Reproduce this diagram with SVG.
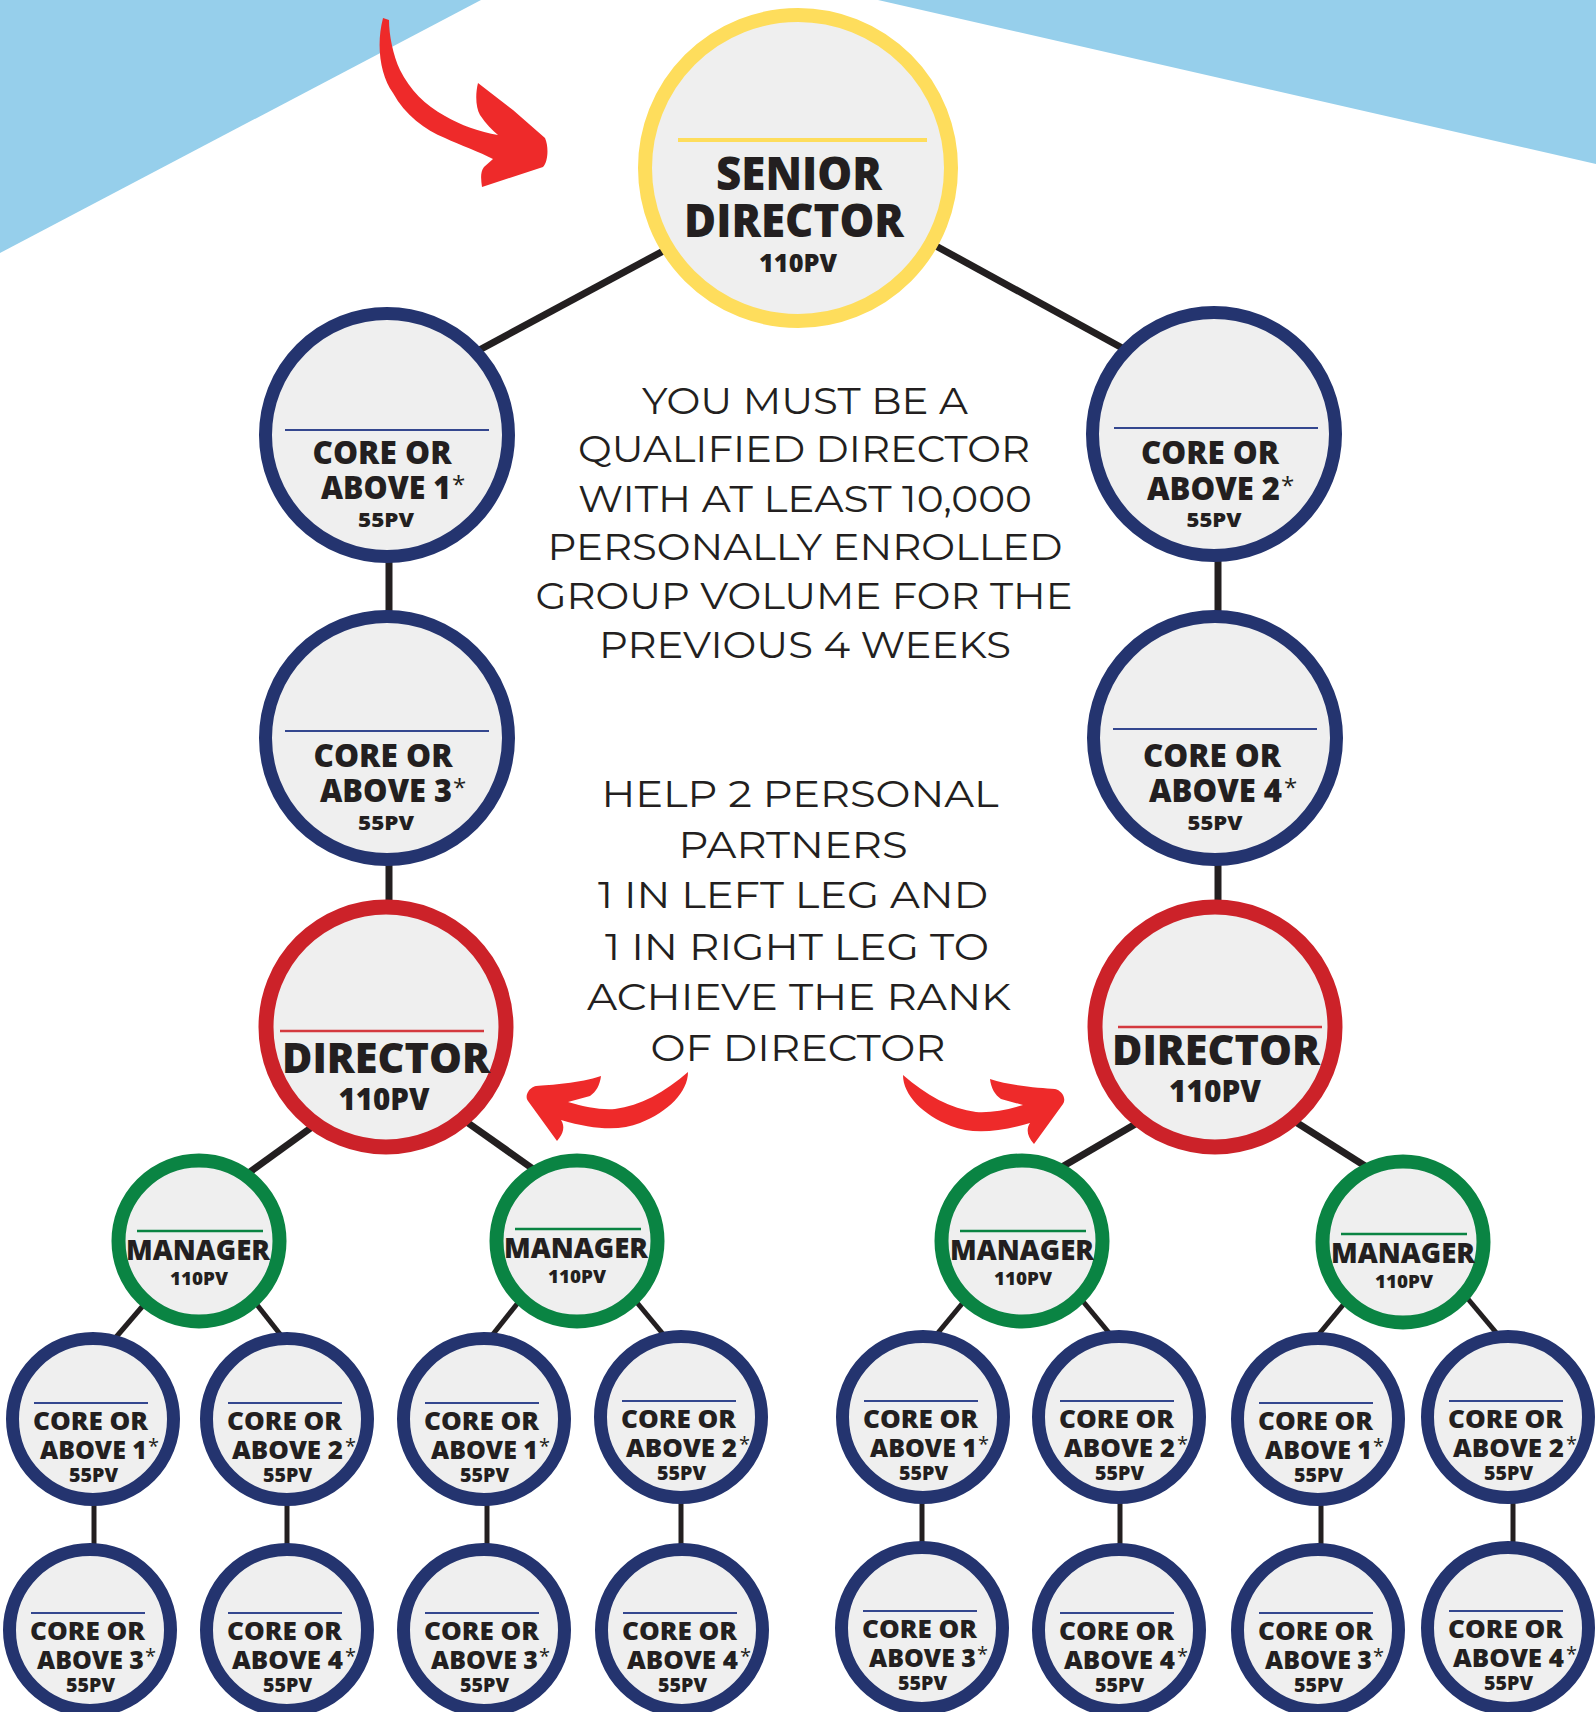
<svg xmlns="http://www.w3.org/2000/svg" width="1596" height="1712" viewBox="0 0 1596 1712">
<style>
.bg{fill:#96CFEB}
.arrow{fill:#EE2A2A}
.conn line{stroke:#231F20;stroke-width:7}
.conn line.thin{stroke-width:5}
.node circle{fill:#EFEFEF}
.core circle{stroke:#24346F}
.core line{stroke:#34478F;stroke-width:2}
.dir circle{stroke:#CC2229;stroke-width:15}
.dir line{stroke:#D4393F;stroke-width:2.5}
.mgr circle{stroke:#0A8443;stroke-width:14}
.mgr line{stroke:#0A8443;stroke-width:2.5}
.t{font-family:"Open Sans","Liberation Sans",sans-serif;font-weight:800;fill:#231F20;text-anchor:middle}
.s{text-anchor:start}
.ast{font-weight:400}
.big .l1,.big .l2{font-size:31px}
.big .l3{font-size:20px}
.big .ast{font-size:24px}
.sm .l1,.sm .l2{font-size:25px}
.sm .l3{font-size:19px}
.sm .ast{font-size:20px}
.body{font-family:"Montserrat","Lato","Open Sans",sans-serif;font-weight:400;fill:#231F20;text-anchor:middle;font-size:38px}
</style>

<!-- background -->
<polygon class="bg" points="0,0 481,0 0,253"/>
<polygon class="bg" points="878,0 1596,0 1596,164"/>

<!-- red arrows -->
<path class="arrow" d="M383,18 C376,45 380,75 393,93 C405,115 425,130 445,138 C460,145 480,152 493,159 L484,167 C480,172 481,180 482,187 L543,167 C548,162 549,147 545,138 L513,110 L478,83 C475,95 476,108 480,115 C486,124 492,130 498,135 C480,132 460,125 445,116 C425,105 410,90 400,70 C393,55 389,35 389,20 Z"/>
<path class="arrow" d="M688,1072 C688,1092 668,1112 640,1123 C620,1131 595,1130 561,1120 C565,1126 564,1133 557,1141 L528,1101 C524,1095 530,1087 536,1086 C550,1085 580,1083 601,1076 C600,1085 596,1092 590,1096 L568,1102 C585,1107 600,1110 615,1109 C640,1106 665,1092 688,1072 Z"/>
<path class="arrow" transform="translate(1591,3) scale(-1,1)" d="M688,1072 C688,1092 668,1112 640,1123 C620,1131 595,1130 561,1120 C565,1126 564,1133 557,1141 L528,1101 C524,1095 530,1087 536,1086 C550,1085 580,1083 601,1076 C600,1085 596,1092 590,1096 L568,1102 C585,1107 600,1110 615,1109 C640,1106 665,1092 688,1072 Z"/>

<!-- connectors -->
<g id="connectors" class="conn">
<line x1="680" y1="242" x2="470" y2="355"/>
<line x1="925" y1="240" x2="1135" y2="355"/>
<line x1="389" y1="550" x2="389" y2="625"/>
<line x1="389" y1="855" x2="389" y2="915"/>
<line x1="1218" y1="550" x2="1218" y2="625"/>
<line x1="1218" y1="855" x2="1218" y2="915"/>
<line x1="319" y1="1122" x2="243" y2="1177"/>
<line x1="461" y1="1118" x2="543" y2="1176"/>
<line x1="1144" y1="1119" x2="1055" y2="1171"/>
<line x1="1291" y1="1119" x2="1373" y2="1171"/>
<line class="thin" x1="147" y1="1301" x2="111" y2="1343"/>
<line class="thin" x1="254" y1="1301" x2="287" y2="1343"/>
<line class="thin" x1="521" y1="1299" x2="486" y2="1343"/>
<line class="thin" x1="634" y1="1299" x2="668" y2="1340"/>
<line class="thin" x1="966" y1="1299" x2="932" y2="1340"/>
<line class="thin" x1="1081" y1="1299" x2="1115" y2="1340"/>
<line class="thin" x1="1348" y1="1299" x2="1314" y2="1340"/>
<line class="thin" x1="1463" y1="1293" x2="1499" y2="1336"/>
<line class="thin" x1="94" y1="1495" x2="94" y2="1555"/>
<line class="thin" x1="287" y1="1495" x2="287" y2="1555"/>
<line class="thin" x1="487" y1="1495" x2="487" y2="1555"/>
<line class="thin" x1="681" y1="1495" x2="681" y2="1555"/>
<line class="thin" x1="922" y1="1495" x2="922" y2="1555"/>
<line class="thin" x1="1120" y1="1495" x2="1120" y2="1555"/>
<line class="thin" x1="1321" y1="1495" x2="1321" y2="1555"/>
<line class="thin" x1="1513" y1="1495" x2="1513" y2="1555"/>
</g>

<!-- senior director -->
<g id="senior-director" class="node" transform="translate(798,168)">
<circle r="153" stroke="#FEDD5C" stroke-width="14"/>
<line x1="-120" y1="-28" x2="129" y2="-28" stroke="#FEDD5C" stroke-width="4"/>
<text class="t"><tspan x="1" y="22" font-size="46" textLength="166" lengthAdjust="spacingAndGlyphs">SENIOR</tspan><tspan x="-4" y="69" font-size="46" textLength="220" lengthAdjust="spacingAndGlyphs">DIRECTOR</tspan><tspan x="0" y="104" font-size="24" textLength="78" lengthAdjust="spacingAndGlyphs">110PV</tspan></text>
</g>

<!-- large core nodes -->
<g id="core-l1" class="node core big" transform="translate(387,435)">
<circle r="121.5" stroke-width="13"/>
<line x1="-102" y1="-5" x2="102" y2="-5"/>
<text class="t"><tspan class="l1" x="-5" y="29" textLength="139" lengthAdjust="spacingAndGlyphs">CORE OR</tspan><tspan class="l2 s" x="-66" y="64" textLength="130" lengthAdjust="spacingAndGlyphs">ABOVE 1</tspan><tspan class="ast" dx="1" dy="-6">*</tspan><tspan class="l3" x="-1" y="92" textLength="56" lengthAdjust="spacingAndGlyphs">55PV</tspan></text>
</g>
<g id="core-r2" class="node core big" transform="translate(1214,434)">
<circle r="121.5" stroke-width="13"/>
<line x1="-100" y1="-6" x2="104" y2="-6"/>
<text class="t"><tspan class="l1" x="-4" y="30" textLength="138" lengthAdjust="spacingAndGlyphs">CORE OR</tspan><tspan class="l2 s" x="-67" y="66" textLength="133" lengthAdjust="spacingAndGlyphs">ABOVE 2</tspan><tspan class="ast" dx="1" dy="-6">*</tspan><tspan class="l3" x="0" y="93" textLength="55" lengthAdjust="spacingAndGlyphs">55PV</tspan></text>
</g>
<g id="core-l3" class="node core big" transform="translate(387,738)">
<circle r="121.5" stroke-width="13"/>
<line x1="-102" y1="-7" x2="102" y2="-7"/>
<text class="t"><tspan class="l1" x="-4" y="29" textLength="139" lengthAdjust="spacingAndGlyphs">CORE OR</tspan><tspan class="l2 s" x="-67" y="64" textLength="132" lengthAdjust="spacingAndGlyphs">ABOVE 3</tspan><tspan class="ast" dx="1" dy="-6">*</tspan><tspan class="l3" x="-1" y="92" textLength="56" lengthAdjust="spacingAndGlyphs">55PV</tspan></text>
</g>
<g id="core-r4" class="node core big" transform="translate(1215,738)">
<circle r="121.5" stroke-width="13"/>
<line x1="-102" y1="-9" x2="102" y2="-9"/>
<text class="t"><tspan class="l1" x="-3" y="29" textLength="138" lengthAdjust="spacingAndGlyphs">CORE OR</tspan><tspan class="l2 s" x="-66" y="64" textLength="133" lengthAdjust="spacingAndGlyphs">ABOVE 4</tspan><tspan class="ast" dx="2" dy="-6">*</tspan><tspan class="l3" x="0" y="92" textLength="55" lengthAdjust="spacingAndGlyphs">55PV</tspan></text>
</g>

<!-- directors -->
<g id="director-left" class="node dir" transform="translate(386,1027)">
<circle r="120"/>
<line x1="-106" y1="4" x2="98" y2="4"/>
<text class="t"><tspan x="0" y="46" font-size="42" textLength="208" lengthAdjust="spacingAndGlyphs">DIRECTOR</tspan><tspan x="-2" y="83" font-size="30" textLength="91" lengthAdjust="spacingAndGlyphs">110PV</tspan></text>
</g>
<g id="director-right" class="node dir" transform="translate(1215,1027)">
<circle r="120"/>
<line x1="-97" y1="0" x2="107" y2="0"/>
<text class="t"><tspan x="1" y="38" font-size="42" textLength="208" lengthAdjust="spacingAndGlyphs">DIRECTOR</tspan><tspan x="0" y="75" font-size="30" textLength="92" lengthAdjust="spacingAndGlyphs">110PV</tspan></text>
</g>

<!-- managers -->
<g id="manager-1" class="node mgr" transform="translate(199,1241)">
<circle r="80.5"/>
<line x1="-62" y1="-10" x2="64" y2="-10"/>
<text class="t"><tspan x="-1" y="19" font-size="28" textLength="144" lengthAdjust="spacingAndGlyphs">MANAGER</tspan><tspan x="0" y="44" font-size="18" textLength="58" lengthAdjust="spacingAndGlyphs">110PV</tspan></text>
</g>
<g id="manager-2" class="node mgr" transform="translate(577,1241)">
<circle r="80.5"/>
<line x1="-62" y1="-12" x2="64" y2="-12"/>
<text class="t"><tspan x="-1" y="17" font-size="28" textLength="144" lengthAdjust="spacingAndGlyphs">MANAGER</tspan><tspan x="0" y="42" font-size="18" textLength="58" lengthAdjust="spacingAndGlyphs">110PV</tspan></text>
</g>
<g id="manager-3" class="node mgr" transform="translate(1022,1241)">
<circle r="80.5"/>
<line x1="-62" y1="-10" x2="64" y2="-10"/>
<text class="t"><tspan x="0" y="19" font-size="28" textLength="144" lengthAdjust="spacingAndGlyphs">MANAGER</tspan><tspan x="1" y="44" font-size="18" textLength="58" lengthAdjust="spacingAndGlyphs">110PV</tspan></text>
</g>
<g id="manager-4" class="node mgr" transform="translate(1403,1242)">
<circle r="80.5"/>
<line x1="-62" y1="-8" x2="64" y2="-8"/>
<text class="t"><tspan x="0" y="21" font-size="28" textLength="144" lengthAdjust="spacingAndGlyphs">MANAGER</tspan><tspan x="1" y="46" font-size="18" textLength="58" lengthAdjust="spacingAndGlyphs">110PV</tspan></text>
</g>

<!-- small core nodes, row A -->
<g id="core-a1" class="node core sm" transform="translate(93,1419)">
<circle r="80.5" stroke-width="13"/><line x1="-59" y1="-16" x2="55" y2="-16"/>
<text class="t"><tspan class="l1" x="-2.5" y="11" textLength="115" lengthAdjust="spacingAndGlyphs">CORE OR</tspan><tspan class="l2 s" x="-53" y="40" textLength="107" lengthAdjust="spacingAndGlyphs">ABOVE 1</tspan><tspan class="ast" dx="1" dy="-6">*</tspan><tspan class="l3" x="0.5" y="63" textLength="49" lengthAdjust="spacingAndGlyphs">55PV</tspan></text>
</g>
<g id="core-a2" class="node core sm" transform="translate(287,1419)">
<circle r="80.5" stroke-width="13"/><line x1="-59" y1="-16" x2="55" y2="-16"/>
<text class="t"><tspan class="l1" x="-2.5" y="11" textLength="115" lengthAdjust="spacingAndGlyphs">CORE OR</tspan><tspan class="l2 s" x="-55" y="40" textLength="111" lengthAdjust="spacingAndGlyphs">ABOVE 2</tspan><tspan class="ast" dx="2" dy="-6">*</tspan><tspan class="l3" x="0.5" y="63" textLength="49" lengthAdjust="spacingAndGlyphs">55PV</tspan></text>
</g>
<g id="core-a3" class="node core sm" transform="translate(484,1419)">
<circle r="80.5" stroke-width="13"/><line x1="-59" y1="-16" x2="55" y2="-16"/>
<text class="t"><tspan class="l1" x="-2.5" y="11" textLength="115" lengthAdjust="spacingAndGlyphs">CORE OR</tspan><tspan class="l2 s" x="-53" y="40" textLength="107" lengthAdjust="spacingAndGlyphs">ABOVE 1</tspan><tspan class="ast" dx="1" dy="-6">*</tspan><tspan class="l3" x="0.5" y="63" textLength="49" lengthAdjust="spacingAndGlyphs">55PV</tspan></text>
</g>
<g id="core-a4" class="node core sm" transform="translate(681,1417)">
<circle r="80.5" stroke-width="13"/><line x1="-59" y1="-16" x2="55" y2="-16"/>
<text class="t"><tspan class="l1" x="-2.5" y="11" textLength="115" lengthAdjust="spacingAndGlyphs">CORE OR</tspan><tspan class="l2 s" x="-55" y="40" textLength="111" lengthAdjust="spacingAndGlyphs">ABOVE 2</tspan><tspan class="ast" dx="2" dy="-6">*</tspan><tspan class="l3" x="0.5" y="63" textLength="49" lengthAdjust="spacingAndGlyphs">55PV</tspan></text>
</g>
<g id="core-a5" class="node core sm" transform="translate(923,1417)">
<circle r="80.5" stroke-width="13"/><line x1="-59" y1="-16" x2="55" y2="-16"/>
<text class="t"><tspan class="l1" x="-2.5" y="11" textLength="115" lengthAdjust="spacingAndGlyphs">CORE OR</tspan><tspan class="l2 s" x="-53" y="40" textLength="107" lengthAdjust="spacingAndGlyphs">ABOVE 1</tspan><tspan class="ast" dx="1" dy="-6">*</tspan><tspan class="l3" x="0.5" y="63" textLength="49" lengthAdjust="spacingAndGlyphs">55PV</tspan></text>
</g>
<g id="core-a6" class="node core sm" transform="translate(1119,1417)">
<circle r="80.5" stroke-width="13"/><line x1="-59" y1="-16" x2="55" y2="-16"/>
<text class="t"><tspan class="l1" x="-2.5" y="11" textLength="115" lengthAdjust="spacingAndGlyphs">CORE OR</tspan><tspan class="l2 s" x="-55" y="40" textLength="111" lengthAdjust="spacingAndGlyphs">ABOVE 2</tspan><tspan class="ast" dx="2" dy="-6">*</tspan><tspan class="l3" x="0.5" y="63" textLength="49" lengthAdjust="spacingAndGlyphs">55PV</tspan></text>
</g>
<g id="core-a7" class="node core sm" transform="translate(1318,1419)">
<circle r="80.5" stroke-width="13"/><line x1="-59" y1="-16" x2="55" y2="-16"/>
<text class="t"><tspan class="l1" x="-2.5" y="11" textLength="115" lengthAdjust="spacingAndGlyphs">CORE OR</tspan><tspan class="l2 s" x="-53" y="40" textLength="107" lengthAdjust="spacingAndGlyphs">ABOVE 1</tspan><tspan class="ast" dx="1" dy="-6">*</tspan><tspan class="l3" x="0.5" y="63" textLength="49" lengthAdjust="spacingAndGlyphs">55PV</tspan></text>
</g>
<g id="core-a8" class="node core sm" transform="translate(1508,1417)">
<circle r="80.5" stroke-width="13"/><line x1="-59" y1="-16" x2="55" y2="-16"/>
<text class="t"><tspan class="l1" x="-2.5" y="11" textLength="115" lengthAdjust="spacingAndGlyphs">CORE OR</tspan><tspan class="l2 s" x="-55" y="40" textLength="111" lengthAdjust="spacingAndGlyphs">ABOVE 2</tspan><tspan class="ast" dx="2" dy="-6">*</tspan><tspan class="l3" x="0.5" y="63" textLength="49" lengthAdjust="spacingAndGlyphs">55PV</tspan></text>
</g>

<!-- small core nodes, row B -->
<g id="core-b1" class="node core sm" transform="translate(90,1630)">
<circle r="80.5" stroke-width="13"/><line x1="-59" y1="-17" x2="55" y2="-17"/>
<text class="t"><tspan class="l1" x="-2.5" y="10" textLength="115" lengthAdjust="spacingAndGlyphs">CORE OR</tspan><tspan class="l2 s" x="-53" y="39" textLength="107" lengthAdjust="spacingAndGlyphs">ABOVE 3</tspan><tspan class="ast" dx="1" dy="-6">*</tspan><tspan class="l3" x="0.5" y="62" textLength="49" lengthAdjust="spacingAndGlyphs">55PV</tspan></text>
</g>
<g id="core-b2" class="node core sm" transform="translate(287,1630)">
<circle r="80.5" stroke-width="13"/><line x1="-59" y1="-17" x2="55" y2="-17"/>
<text class="t"><tspan class="l1" x="-2.5" y="10" textLength="115" lengthAdjust="spacingAndGlyphs">CORE OR</tspan><tspan class="l2 s" x="-55" y="39" textLength="111" lengthAdjust="spacingAndGlyphs">ABOVE 4</tspan><tspan class="ast" dx="2" dy="-6">*</tspan><tspan class="l3" x="0.5" y="62" textLength="49" lengthAdjust="spacingAndGlyphs">55PV</tspan></text>
</g>
<g id="core-b3" class="node core sm" transform="translate(484,1630)">
<circle r="80.5" stroke-width="13"/><line x1="-59" y1="-17" x2="55" y2="-17"/>
<text class="t"><tspan class="l1" x="-2.5" y="10" textLength="115" lengthAdjust="spacingAndGlyphs">CORE OR</tspan><tspan class="l2 s" x="-53" y="39" textLength="107" lengthAdjust="spacingAndGlyphs">ABOVE 3</tspan><tspan class="ast" dx="1" dy="-6">*</tspan><tspan class="l3" x="0.5" y="62" textLength="49" lengthAdjust="spacingAndGlyphs">55PV</tspan></text>
</g>
<g id="core-b4" class="node core sm" transform="translate(682,1630)">
<circle r="80.5" stroke-width="13"/><line x1="-59" y1="-17" x2="55" y2="-17"/>
<text class="t"><tspan class="l1" x="-2.5" y="10" textLength="115" lengthAdjust="spacingAndGlyphs">CORE OR</tspan><tspan class="l2 s" x="-55" y="39" textLength="111" lengthAdjust="spacingAndGlyphs">ABOVE 4</tspan><tspan class="ast" dx="2" dy="-6">*</tspan><tspan class="l3" x="0.5" y="62" textLength="49" lengthAdjust="spacingAndGlyphs">55PV</tspan></text>
</g>
<g id="core-b5" class="node core sm" transform="translate(922,1628)">
<circle r="80.5" stroke-width="13"/><line x1="-59" y1="-17" x2="55" y2="-17"/>
<text class="t"><tspan class="l1" x="-2.5" y="10" textLength="115" lengthAdjust="spacingAndGlyphs">CORE OR</tspan><tspan class="l2 s" x="-53" y="39" textLength="107" lengthAdjust="spacingAndGlyphs">ABOVE 3</tspan><tspan class="ast" dx="1" dy="-6">*</tspan><tspan class="l3" x="0.5" y="62" textLength="49" lengthAdjust="spacingAndGlyphs">55PV</tspan></text>
</g>
<g id="core-b6" class="node core sm" transform="translate(1119,1630)">
<circle r="80.5" stroke-width="13"/><line x1="-59" y1="-17" x2="55" y2="-17"/>
<text class="t"><tspan class="l1" x="-2.5" y="10" textLength="115" lengthAdjust="spacingAndGlyphs">CORE OR</tspan><tspan class="l2 s" x="-55" y="39" textLength="111" lengthAdjust="spacingAndGlyphs">ABOVE 4</tspan><tspan class="ast" dx="2" dy="-6">*</tspan><tspan class="l3" x="0.5" y="62" textLength="49" lengthAdjust="spacingAndGlyphs">55PV</tspan></text>
</g>
<g id="core-b7" class="node core sm" transform="translate(1318,1630)">
<circle r="80.5" stroke-width="13"/><line x1="-59" y1="-17" x2="55" y2="-17"/>
<text class="t"><tspan class="l1" x="-2.5" y="10" textLength="115" lengthAdjust="spacingAndGlyphs">CORE OR</tspan><tspan class="l2 s" x="-53" y="39" textLength="107" lengthAdjust="spacingAndGlyphs">ABOVE 3</tspan><tspan class="ast" dx="1" dy="-6">*</tspan><tspan class="l3" x="0.5" y="62" textLength="49" lengthAdjust="spacingAndGlyphs">55PV</tspan></text>
</g>
<g id="core-b8" class="node core sm" transform="translate(1508,1628)">
<circle r="80.5" stroke-width="13"/><line x1="-59" y1="-17" x2="55" y2="-17"/>
<text class="t"><tspan class="l1" x="-2.5" y="10" textLength="115" lengthAdjust="spacingAndGlyphs">CORE OR</tspan><tspan class="l2 s" x="-55" y="39" textLength="111" lengthAdjust="spacingAndGlyphs">ABOVE 4</tspan><tspan class="ast" dx="2" dy="-6">*</tspan><tspan class="l3" x="0.5" y="62" textLength="49" lengthAdjust="spacingAndGlyphs">55PV</tspan></text>
</g>

<!-- explanatory text -->
<g id="text-requirement">
<text class="body"><tspan x="805" y="414" textLength="326" lengthAdjust="spacingAndGlyphs">YOU MUST BE A</tspan><tspan x="804" y="462" textLength="452" lengthAdjust="spacingAndGlyphs">QUALIFIED DIRECTOR</tspan><tspan x="805" y="512" textLength="454" lengthAdjust="spacingAndGlyphs">WITH AT LEAST 10,000</tspan><tspan x="805" y="560" textLength="515" lengthAdjust="spacingAndGlyphs">PERSONALLY ENROLLED</tspan><tspan x="804" y="609" textLength="537" lengthAdjust="spacingAndGlyphs">GROUP VOLUME FOR THE</tspan><tspan x="805" y="658" textLength="412" lengthAdjust="spacingAndGlyphs">PREVIOUS 4 WEEKS</tspan></text>
</g>
<g id="text-help">
<text class="body"><tspan x="800" y="807" textLength="397" lengthAdjust="spacingAndGlyphs">HELP 2 PERSONAL</tspan><tspan x="793" y="858" textLength="229" lengthAdjust="spacingAndGlyphs">PARTNERS</tspan><tspan x="793" y="908" textLength="390" lengthAdjust="spacingAndGlyphs">1 IN LEFT LEG AND</tspan><tspan x="797" y="960" textLength="384" lengthAdjust="spacingAndGlyphs">1 IN RIGHT LEG TO</tspan><tspan x="799" y="1010" textLength="424" lengthAdjust="spacingAndGlyphs">ACHIEVE THE RANK</tspan><tspan x="798" y="1061" textLength="295" lengthAdjust="spacingAndGlyphs">OF DIRECTOR</tspan></text>
</g>
</svg>
